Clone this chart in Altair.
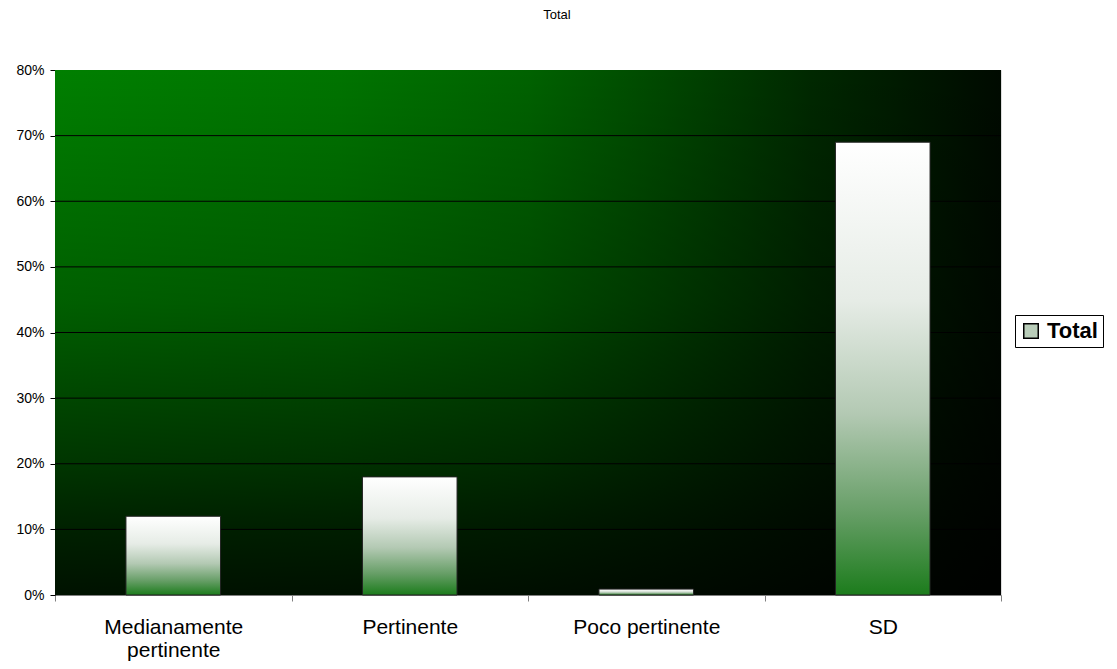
import altair as alt
import pandas as pd

# ---- data ----
categories = ["Medianamente pertinente", "Pertinente", "Poco pertinente", "SD"]
values = [0.12, 0.18, 0.009, 0.69]
y_ticks = [0.0, 0.1, 0.2, 0.3, 0.4, 0.5, 0.6, 0.7, 0.8]
grid_ticks = [0.1, 0.2, 0.3, 0.4, 0.5, 0.6, 0.7]
series_name = ["Total"]
chart_title = "Total"

FONT = "Liberation Sans"

bars_df = pd.DataFrame({"categoria": categories, "valore": values})
grid_df = pd.DataFrame({"valore": grid_ticks})
legend_df = pd.DataFrame({"serie": series_name})
one_row = alt.Data(values=[{"k": 1}])

x_scale = alt.Scale(domain=categories, paddingInner=0, paddingOuter=0)
y_scale = alt.Scale(domain=[0, 0.8], nice=False, zero=True)

y_axis = alt.Axis(
    title=None, values=y_ticks, format=".0%", grid=False,
    labelFont=FONT, labelFontSize=14, labelColor="black",
    tickSize=5, tickColor="black", domainColor="black",
    labelPadding=6,
)

bg_horizontal = {
    "gradient": "linear", "x1": 0, "y1": 0, "x2": 1, "y2": 0,
    "stops": [
        {"offset": 0.0, "color": "#007f00"},
        {"offset": 0.3, "color": "#007400"},
        {"offset": 0.5, "color": "#006200"},
        {"offset": 0.65, "color": "#004600"},
        {"offset": 0.8, "color": "#002800"},
        {"offset": 1.0, "color": "#000a00"},
    ],
}
bg_vertical = {
    "gradient": "linear", "x1": 0, "y1": 0, "x2": 0, "y2": 1,
    "stops": [
        {"offset": 0.0, "color": "rgba(0,0,0,0)"},
        {"offset": 0.44, "color": "rgba(0,0,0,0.25)"},
        {"offset": 0.75, "color": "rgba(0,0,0,0.58)"},
        {"offset": 0.88, "color": "rgba(0,0,0,0.75)"},
        {"offset": 1.0, "color": "rgba(0,0,0,0.86)"},
    ],
}
bar_grad = {
    "gradient": "linear", "x1": 0, "y1": 0, "x2": 0, "y2": 1,
    "stops": [
        {"offset": 0.0, "color": "#ffffff"},
        {"offset": 0.35, "color": "#e6ece6"},
        {"offset": 0.6, "color": "#b3c9b3"},
        {"offset": 0.82, "color": "#669e66"},
        {"offset": 1.0, "color": "#1c7c1c"},
    ],
}

bg1 = alt.Chart(one_row).mark_rect(fill=bg_horizontal, strokeWidth=0).encode(
    x=alt.value(0), x2=alt.value("width"), y=alt.value(0), y2=alt.value("height")
)
bg2 = alt.Chart(one_row).mark_rect(fill=bg_vertical, strokeWidth=0).encode(
    x=alt.value(0), x2=alt.value("width"), y=alt.value(0), y2=alt.value("height")
)

grid = alt.Chart(grid_df).mark_rule(color="black", strokeWidth=1).encode(
    y=alt.Y("valore:Q", scale=y_scale, axis=y_axis),
    x=alt.value(0),
    x2=alt.value("width"),
)

bars = alt.Chart(bars_df).mark_bar(
    fill=bar_grad, stroke="#222222", strokeWidth=1,
    width=alt.RelativeBandSize(0.4),
).encode(
    x=alt.X(
        "categoria:N",
        sort=categories,
        scale=x_scale,
        axis=alt.Axis(
            title=None, labelAngle=0, tickBand="extent", grid=False,
            labelFont=FONT, labelFontSize=21, labelColor="black",
            tickSize=6, tickColor="#808080", domainColor="#808080",
            labelPadding=15, labelLineHeight=23,
            labelExpr="datum.label == 'Medianamente pertinente' ? ['Medianamente', 'pertinente'] : datum.label",
        ),
    ),
    y=alt.Y("valore:Q", scale=y_scale, axis=y_axis),
)

legend_layer = alt.Chart(legend_df).mark_square(opacity=0).encode(
    x=alt.value(0),
    y=alt.value(0),
    color=alt.Color(
        "serie:N",
        scale=alt.Scale(domain=series_name, range=["#b9cdb9"]),
        legend=alt.Legend(
            title=None, orient="none", legendX=960, legendY=245,
            strokeColor="black", fillColor="white", padding=5,
            symbolType="square", symbolSize=210, symbolOpacity=1,
            symbolStrokeColor="black", symbolStrokeWidth=1.5,
            labelFont=FONT, labelFontSize=22, labelFontWeight="bold",
            labelColor="black", labelOffset=5,
        ),
    ),
)

chart = alt.layer(bg1, bg2, grid, bars, legend_layer).properties(
    width=946,
    height=525,
    padding={"left": 47, "top": 62, "right": 108, "bottom": 69},
    autosize=alt.AutoSizeParams(type="none"),
    title=alt.Title(
        chart_title, fontSize=13, fontWeight="normal", font=FONT,
        color="black", anchor="middle", offset=41, dx=29,
    ),
).configure_view(stroke="#808080", strokeWidth=1).configure(background="white")

chart.save("out.html", embed_options={"renderer": "svg", "actions": False})
